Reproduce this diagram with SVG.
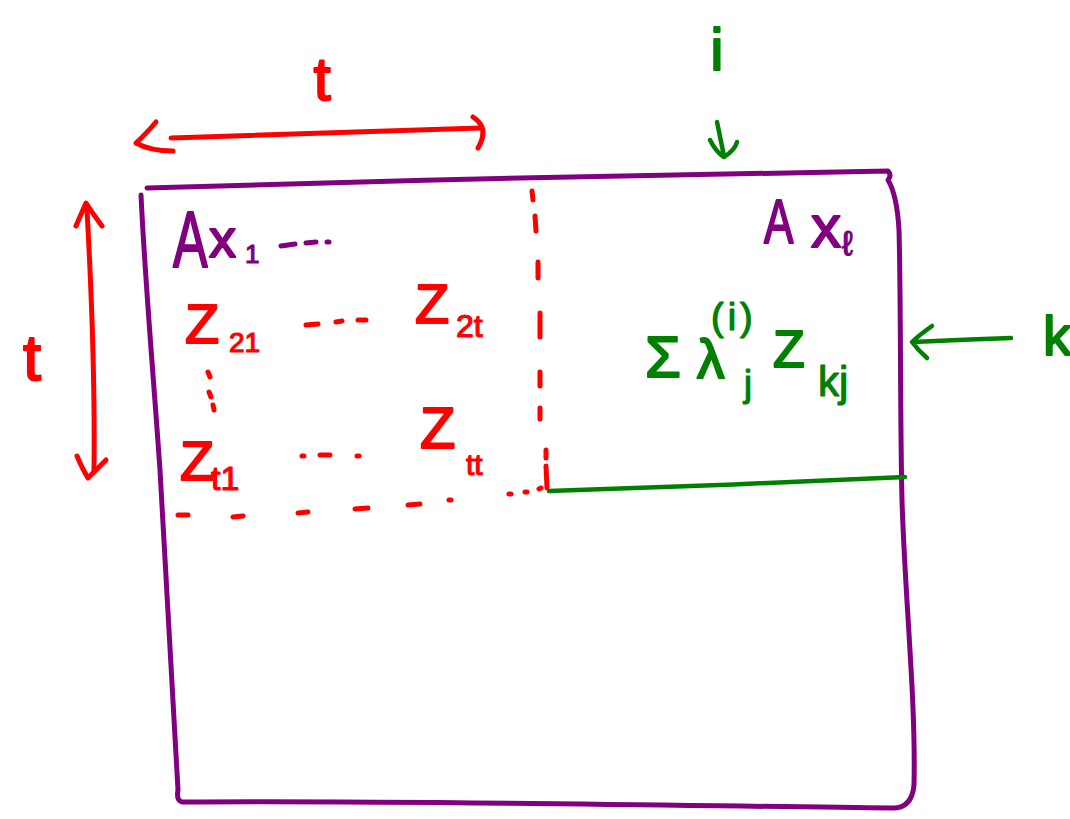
<svg xmlns="http://www.w3.org/2000/svg" width="1070" height="819" viewBox="0 0 1070 819">
<style>
.p{stroke:#800080;fill:none;stroke-width:5;stroke-linecap:round;stroke-linejoin:round}
.r{stroke:#ff0000;fill:none;stroke-width:5;stroke-linecap:round;stroke-linejoin:round}
.g{stroke:#008000;fill:none;stroke-width:4.5;stroke-linecap:round;stroke-linejoin:round}
text{font-family:"Liberation Sans","DejaVu Sans",sans-serif;stroke-width:2;stroke-linejoin:round;stroke-linecap:round}
.tp{fill:#800080;stroke:#800080}
.tr{fill:#ff0000;stroke:#ff0000}
.tg{fill:#008000;stroke:#008000}
.s{stroke-width:1.2}
</style>
<rect width="1070" height="819" fill="#ffffff"/>
<g id="matrix">
<path class="p" d="M147,188 C300,183 400,181 520,178 C700,174 800,172 888,171 Q892,175 888,180 Q897,195 899,230 C901,300 900,420 902,500 C905,600 916,700 914,785 Q912,808 893,808 C700,806 400,800 182,802 Q176,800 178,790 C170,640 163,520 160,470 C153,370 145,280 141,195"/>
</g>
<g id="connectors">
<path class="r" d="M171,138 C300,133 400,131 480,128"/>
<path class="r" d="M156,122 Q145,135 136,143 Q150,151 173,151"/>
<path class="r" d="M473,117 Q490,128 478,148"/>
<path class="r" d="M87,210 C92,300 95,390 94,472"/>
<path class="r" d="M76,226 Q82,212 86,203 Q93,214 102,226"/>
<path class="r" d="M77,456 Q83,470 88,478 Q98,468 106,460"/>
<path class="r" d="M532,191 L533,200 M535,216 L536,231 M538,262 L538,278 M540,313 L540,337 M540,372 L540,386 M540,408 L540,419 M546,450 L546,458 M546,466 L547,488"/>
<path class="r" d="M178,515 L188,515 M233,517 L243,516 M298,513 L308,512 M355,509 L368,508 M408,505 L420,504 M449,500 L451,500 M509,494 L511,494 M525,492 L527,492 M539,489 L541,488"/>
<path class="g" d="M549,491 C650,488 800,482 905,477"/>
<path class="g" d="M717,122 L724,156 M710,140 Q716,152 724,157 Q735,150 737,142"/>
<path class="g" d="M1011,338 C980,339 940,341 913,342 M932,326 Q918,336 912,342 Q918,350 927,358"/>
</g>
<g id="labels">
<text class="tr" x="322" y="100" font-size="62" text-anchor="middle">t</text>
<text class="tr" x="32" y="380" font-size="65" text-anchor="middle">t</text>
<text class="tg" x="717" y="70" font-size="60" text-anchor="middle">i</text>
<text class="tg" x="1043" y="355" font-size="56">k</text>
</g>
<g id="cell-ax1">
<text class="tp" transform="translate(173,267) scale(0.65,1)" font-size="80" stroke-width="3">A</text>
<text class="tp" x="209" y="257" font-size="54">x</text>
<text class="tp s" x="245" y="263" font-size="26">1</text>
<path class="p" d="M281,246 L295,244 M306,243 L316,242 M327,242 L329,242"/>
</g>
<g id="cell-axl">
<text class="tp" transform="translate(764,243) scale(0.7,1)" font-size="63" stroke-width="3">A</text>
<text class="tp" x="811" y="247" font-size="60">x</text>
<text class="tp s" x="842" y="255" font-size="34">ℓ</text>
</g>
<g id="z-rows">
<text class="tr" x="185" y="343" font-size="56">Z</text>
<text class="tr s" x="229" y="352" font-size="28">21</text>
<path class="r" d="M306,325 L318,324 M336,322 L342,321 M358,320 L366,320"/>
<text class="tr" x="415" y="323" font-size="56">Z</text>
<text class="tr s" x="456" y="337" font-size="32">2t</text>
<path class="r" d="M208,372 L210,377 M209,392 L211,397 M213,405 L214,410"/>
<text class="tr" x="180" y="480" font-size="56">Z</text>
<text class="tr s" x="211" y="490" font-size="34">t1</text>
<path class="r" d="M302,456 L304,456 M320,455 L330,455 M357,456 L359,456"/>
<text class="tr" x="420" y="448" font-size="58">Z</text>
<text class="tr s" x="466" y="475" font-size="30">tt</text>
</g>
<g id="cell-sum">
<text class="tg" x="645" y="377" font-size="58">Σ</text>
<text class="tg" x="697" y="378" font-size="55">λ</text>
<text class="tg s" x="711" y="330" font-size="38" letter-spacing="4">(i)</text>
<text class="tg s" x="744" y="396" font-size="36">j</text>
<text class="tg" x="773" y="367" font-size="52">Z</text>
<text class="tg s" x="818" y="396" font-size="42">kj</text>
</g>
</svg>
